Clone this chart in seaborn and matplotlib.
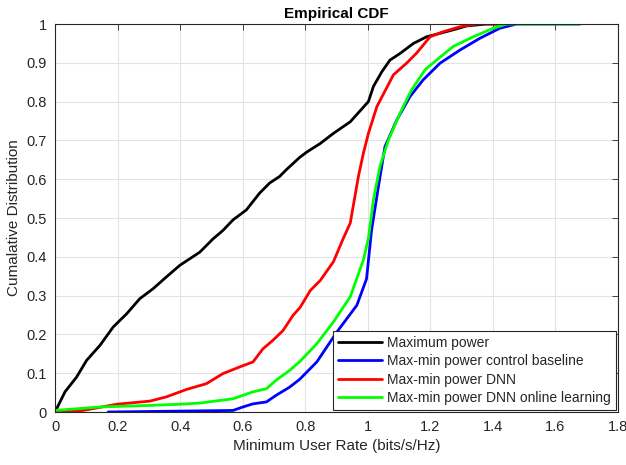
import numpy as np
import pandas as pd
import matplotlib
matplotlib.use("Agg")
import matplotlib.pyplot as plt
import seaborn as sns

series_names = ["Maximum power", "Max-min power control baseline",
                "Max-min power DNN", "Max-min power DNN online learning"]
series_colors = ["#000000", "#0000ff", "#ff0000", "#00ff00"]

max_power_rate = [0.0, 0.032, 0.069, 0.101, 0.144, 0.186, 0.229, 0.271, 0.314, 0.356, 0.399, 0.463,
                  0.505, 0.537, 0.569, 0.612, 0.654, 0.686, 0.718, 0.739, 0.782, 0.805, 0.848,
                  0.890, 0.944, 1.002, 1.018, 1.045, 1.071, 1.103, 1.146, 1.188, 1.231, 1.273,
                  1.316, 1.38, 1.45]
max_power_cdf = [0.0, 0.052, 0.09, 0.133, 0.172, 0.219, 0.253, 0.292, 0.318, 0.348, 0.378, 0.412,
                 0.446, 0.468, 0.495, 0.521, 0.564, 0.59, 0.607, 0.624, 0.656, 0.67, 0.692,
                 0.718, 0.748, 0.8, 0.839, 0.877, 0.907, 0.924, 0.95, 0.967, 0.976, 0.985,
                 0.995, 1.0, 1.0]

baseline_rate = [0.17, 0.569, 0.601, 0.633, 0.676, 0.707, 0.75, 0.782, 0.837, 0.901, 0.965,
                 0.996, 1.012, 1.034, 1.055, 1.093, 1.135, 1.177, 1.231, 1.295, 1.358, 1.422,
                 1.476, 1.678]
baseline_cdf = [0.0, 0.004, 0.013, 0.021, 0.026, 0.043, 0.064, 0.084, 0.129, 0.206, 0.275,
                0.343, 0.468, 0.581, 0.684, 0.753, 0.813, 0.856, 0.899, 0.933, 0.963, 0.989,
                1.0, 1.0]

dnn_rate = [0.0, 0.09, 0.197, 0.303, 0.356, 0.42, 0.484, 0.537, 0.59, 0.633, 0.665, 0.697,
            0.729, 0.761, 0.784, 0.816, 0.848, 0.89, 0.922, 0.944, 0.970, 0.986, 1.002,
            1.029, 1.082, 1.124, 1.156, 1.199, 1.241, 1.295, 1.348, 1.42]
dnn_cdf = [0.0, 0.004, 0.02, 0.028, 0.039, 0.058, 0.073, 0.099, 0.116, 0.129, 0.163, 0.185,
           0.21, 0.249, 0.27, 0.313, 0.339, 0.387, 0.448, 0.487, 0.607, 0.667, 0.718,
           0.787, 0.869, 0.899, 0.925, 0.967, 0.98, 0.993, 1.0, 1.0]

online_rate = [0.0, 0.144, 0.303, 0.399, 0.463, 0.569, 0.601, 0.633, 0.676, 0.707, 0.75,
               0.784, 0.837, 0.89, 0.944, 0.986, 1.002, 1.018, 1.039, 1.066, 1.103, 1.14,
               1.183, 1.22, 1.273, 1.337, 1.401, 1.444, 1.678]
online_cdf = [0.004, 0.013, 0.017, 0.02, 0.023, 0.034, 0.043, 0.052, 0.06, 0.082, 0.107,
              0.131, 0.176, 0.232, 0.297, 0.392, 0.448, 0.547, 0.633, 0.701, 0.77, 0.83,
              0.882, 0.907, 0.942, 0.967, 0.989, 1.0, 1.0]

x_ticks = [0, 0.2, 0.4, 0.6, 0.8, 1, 1.2, 1.4, 1.6, 1.8]
x_tick_labels = ["0", "0.2", "0.4", "0.6", "0.8", "1", "1.2", "1.4", "1.6", "1.8"]
y_ticks = [0, 0.1, 0.2, 0.3, 0.4, 0.5, 0.6, 0.7, 0.8, 0.9, 1]
y_tick_labels = ["0", "0.1", "0.2", "0.3", "0.4", "0.5", "0.6", "0.7", "0.8", "0.9", "1"]

frames = []
for name, xs, ys in zip(series_names,
                        [max_power_rate, baseline_rate, dnn_rate, online_rate],
                        [max_power_cdf, baseline_cdf, dnn_cdf, online_cdf]):
    frames.append(pd.DataFrame({"rate": xs, "cdf": ys, "series": name}))
df = pd.concat(frames, ignore_index=True)

sns.set_theme(style="white")
plt.rcParams["font.family"] = ["Liberation Sans", "DejaVu Sans"]

fig = plt.figure(figsize=(6.26, 4.65), dpi=100)
ax = fig.add_axes([55 / 626, (465 - 412) / 465, (618 - 55) / 626, (412 - 24) / 465])

sns.lineplot(data=df, x="rate", y="cdf", hue="series", hue_order=series_names,
             palette=dict(zip(series_names, series_colors)), sort=False,
             estimator=None, linewidth=2, ax=ax)

ax.set_xlim(0, 1.8)
ax.set_ylim(0, 1)
ax.set_xticks(x_ticks)
ax.set_xticklabels(x_tick_labels)
ax.set_yticks(y_ticks)
ax.set_yticklabels(y_tick_labels)
ax.grid(True, color="#e3e3e3", linewidth=0.8)
ax.set_axisbelow(True)
for s in ax.spines.values():
    s.set_visible(True)
    s.set_color("#262626")
    s.set_linewidth(0.8)
ax.tick_params(axis="both", which="both", direction="in", length=4, width=0.6,
               colors="#262626", labelsize=10.5, top=True, right=True,
               labeltop=False, labelright=False, pad=6)
ax.set_xlabel("Minimum User Rate (bits/s/Hz)", fontsize=11, color="#262626", labelpad=3)
ax.set_ylabel("Cumalative Distribution", fontsize=11, color="#262626", labelpad=4)
ax.set_title("Empirical CDF", fontsize=11, fontweight="bold", color="black", pad=4)

leg = ax.legend(loc="lower right", fontsize=10, frameon=True, fancybox=False,
                edgecolor="#262626", framealpha=1, borderaxespad=0.15,
                handlelength=3.2, handletextpad=0.35, labelspacing=0.32, borderpad=0.35)
leg.get_frame().set_linewidth(0.8)
for line in leg.get_lines():
    line.set_linewidth(2)

fig.savefig("out.png", dpi=100)
